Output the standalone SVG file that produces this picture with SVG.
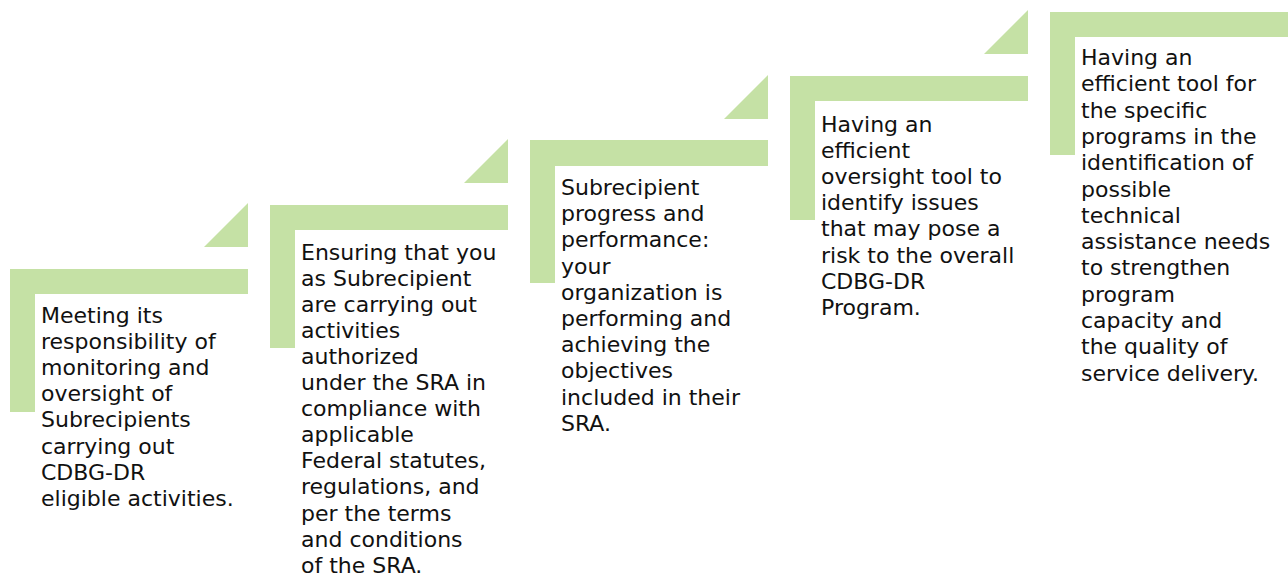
<svg xmlns="http://www.w3.org/2000/svg" width="1288" height="577" viewBox="0 0 1288 577">
<style>
.bar{fill:#C5E1A5;}
.tri{fill:#C5E1A5;}
.lbl{font-family:"DejaVu Sans","Liberation Sans",sans-serif;font-size:22px;fill:#111111;}
</style>
<rect width="1288" height="577" fill="#ffffff"/>
<g id="step1">
<path class="bar" d="M10 269 H248 V294 H35 V412 H10 Z"/>
<polygon class="tri" points="204,247 248,203 248,247"/>
<text class="lbl" x="41" y="322.5">
<tspan x="41">Meeting its</tspan>
<tspan x="41" dy="26.2">responsibility of</tspan>
<tspan x="41" dy="26.2">monitoring and</tspan>
<tspan x="41" dy="26.2">oversight of</tspan>
<tspan x="41" dy="26.2">Subrecipients</tspan>
<tspan x="41" dy="26.2">carrying out</tspan>
<tspan x="41" dy="26.2">CDBG-DR</tspan>
<tspan x="41" dy="26.2">eligible activities.</tspan>
</text>
</g>
<g id="step2">
<path class="bar" d="M270 205 H508 V230 H295 V348 H270 Z"/>
<polygon class="tri" points="464,183 508,139 508,183"/>
<text class="lbl" x="301" y="259.5">
<tspan x="301">Ensuring that you</tspan>
<tspan x="301" dy="26.1">as Subrecipient</tspan>
<tspan x="301" dy="26.1">are carrying out</tspan>
<tspan x="301" dy="26.1">activities</tspan>
<tspan x="301" dy="26.1">authorized</tspan>
<tspan x="301" dy="26.1">under the SRA in</tspan>
<tspan x="301" dy="26.1">compliance with</tspan>
<tspan x="301" dy="26.1">applicable</tspan>
<tspan x="301" dy="26.1">Federal statutes,</tspan>
<tspan x="301" dy="26.1">regulations, and</tspan>
<tspan x="301" dy="26.1">per the terms</tspan>
<tspan x="301" dy="26.1">and conditions</tspan>
<tspan x="301" dy="26.1">of the SRA.</tspan>
</text>
</g>
<g id="step3">
<path class="bar" d="M530 140 H768 V166 H555 V283 H530 Z"/>
<polygon class="tri" points="724,119 768,75 768,119"/>
<text class="lbl" x="561" y="195">
<tspan x="561">Subrecipient</tspan>
<tspan x="561" dy="26.2">progress and</tspan>
<tspan x="561" dy="26.2">performance:</tspan>
<tspan x="561" dy="26.2">your</tspan>
<tspan x="561" dy="26.2">organization is</tspan>
<tspan x="561" dy="26.2">performing and</tspan>
<tspan x="561" dy="26.2">achieving the</tspan>
<tspan x="561" dy="26.2">objectives</tspan>
<tspan x="561" dy="26.2">included in their</tspan>
<tspan x="561" dy="26.2">SRA.</tspan>
</text>
</g>
<g id="step4">
<path class="bar" d="M790 76 H1028 V101 H815 V220 H790 Z"/>
<polygon class="tri" points="984,54 1028,10 1028,54"/>
<text class="lbl" x="821" y="131.5">
<tspan x="821">Having an</tspan>
<tspan x="821" dy="26.2">efficient</tspan>
<tspan x="821" dy="26.2">oversight tool to</tspan>
<tspan x="821" dy="26.2">identify issues</tspan>
<tspan x="821" dy="26.2">that may pose a</tspan>
<tspan x="821" dy="26.2">risk to the overall</tspan>
<tspan x="821" dy="26.2">CDBG-DR</tspan>
<tspan x="821" dy="26.2">Program.</tspan>
</text>
</g>
<g id="step5">
<path class="bar" d="M1050 12 H1288 V37 H1075 V155 H1050 Z"/>
<text class="lbl" x="1081" y="65">
<tspan x="1081">Having an</tspan>
<tspan x="1081" dy="26.3">efficient tool for</tspan>
<tspan x="1081" dy="26.3">the specific</tspan>
<tspan x="1081" dy="26.3">programs in the</tspan>
<tspan x="1081" dy="26.3">identification of</tspan>
<tspan x="1081" dy="26.3">possible</tspan>
<tspan x="1081" dy="26.3">technical</tspan>
<tspan x="1081" dy="26.3">assistance needs</tspan>
<tspan x="1081" dy="26.3">to strengthen</tspan>
<tspan x="1081" dy="26.3">program</tspan>
<tspan x="1081" dy="26.3">capacity and</tspan>
<tspan x="1081" dy="26.3">the quality of</tspan>
<tspan x="1081" dy="26.3">service delivery.</tspan>
</text>
</g>
<g id="connectors"></g>
</svg>
